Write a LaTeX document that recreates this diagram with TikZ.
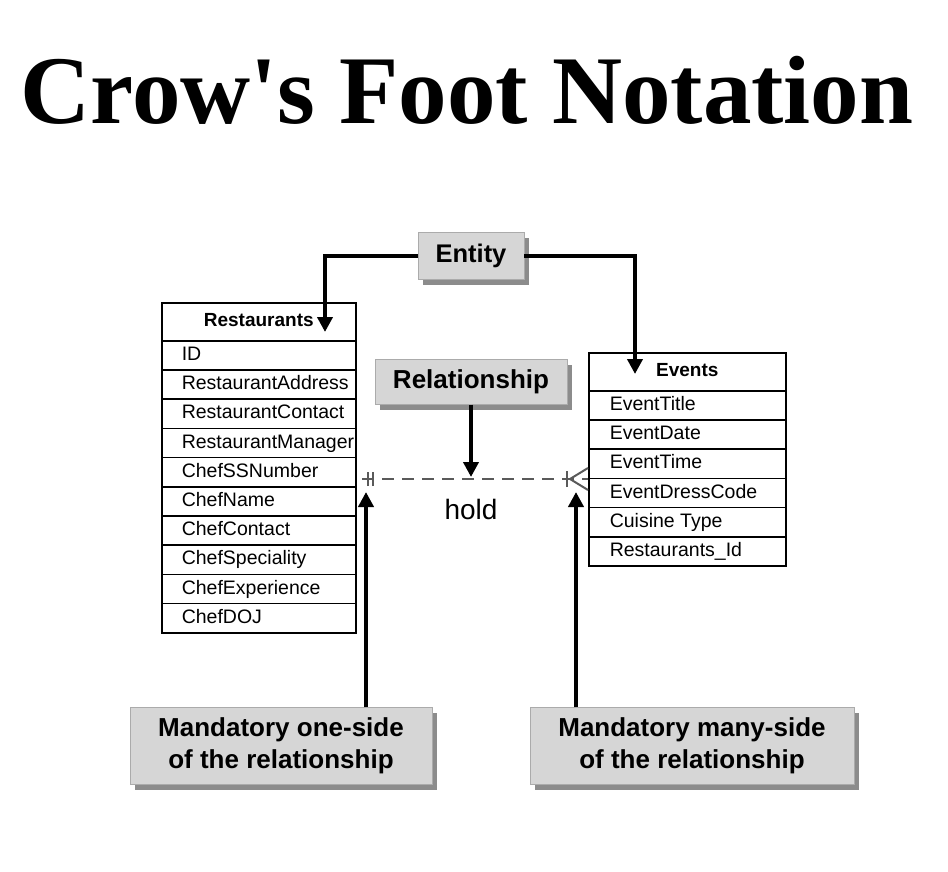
\documentclass[tikz,border=0pt]{standalone}
\usepackage{fontspec}
\setmainfont{Liberation Sans}
\newfontfamily\titlefont{Liberation Serif}
\usetikzlibrary{arrows.meta,shadows}
\definecolor{boxgray}{HTML}{D6D6D6}
\definecolor{shadegray}{HTML}{8C8C8C}
\definecolor{linegray}{HTML}{5A5A5A}
\tikzset{
  tabrow/.style={draw,line width=1.6pt,anchor=north west,minimum height=29.2pt,
    inner xsep=20pt,text width=154pt,text height=14pt,text depth=4pt,align=flush left,
    font=\fontsize{19.5}{21}\selectfont},
  tabhead/.style={tabrow,minimum height=38pt,align=flush center,font=\bfseries\fontsize{19}{21}\selectfont},
  callout/.style={fill=boxgray,draw=boxgray!80!black,line width=0.4pt,align=center,
    font=\bfseries\fontsize{26}{32}\selectfont,
    drop shadow={shadow xshift=5pt,shadow yshift=-5pt,fill=shadegray,opacity=1}},
  thick arrow/.style={line width=4pt,-{Triangle[width=15pt,length=15pt]}},
}

\begin{document}
\begin{tikzpicture}[x=1pt,y=-1pt]
 \useasboundingbox (0,0) rectangle (948,872);
 \node[anchor=base,font=\titlefont\bfseries\fontsize{97}{100}\selectfont] (title) at (467,124) {Crow's Foot Notation};
 % Restaurants table
 \node[tabhead] (rest) at (161,302) {Restaurants};
 \foreach \t [count=\i] in {ID,RestaurantAddress,RestaurantContact,RestaurantManager,
   ChefSSNumber,ChefName,ChefContact,ChefSpeciality,ChefExperience,ChefDOJ}
   {\node[tabrow] (rest-\i) at (161,{340+(\i-1)*29.2}) {\t};}
 % Events table
 \node[tabhead,text width=155pt,inner xsep=21pt] (evt) at (588,352) {Events};
 \foreach \t [count=\i] in {EventTitle,EventDate,EventTime,EventDressCode,Cuisine Type,Restaurants\_Id}
   {\node[tabrow,text width=155pt,inner xsep=21pt] (evt-\i) at (588,{390+(\i-1)*29.2}) {\t};}
 % callouts
 \node[callout,minimum width=106pt,minimum height=47pt,font=\bfseries\fontsize{25.5}{30}\selectfont] (entity) at (471,256) {Entity};
 \node[callout,minimum width=192pt,minimum height=45pt] (rel) at (471,382) {Relationship};
 \node[callout,minimum width=302pt,minimum height=77pt] (one) at (281,746) {Mandatory one-side\\of the relationship};
 \node[callout,minimum width=324pt,minimum height=77pt] (many) at (692,746) {Mandatory many-side\\of the relationship};
 \coordinate (restin) at (325,332);
 \coordinate (evtin) at (635,374);
 \coordinate (oneend) at (362,479);
 \coordinate (manyend) at (588,479);
 \coordinate (mid) at (471,477);
 \coordinate (oneup) at (366,492);
 \coordinate (manyup) at (576,492);
 % relationship line
 \draw[linegray,line width=2pt,dash pattern=on 12pt off 8pt] (oneend) -- (manyend);
 \draw[linegray,line width=2.4pt] ([xshift=6pt,yshift=-7pt]oneend) -- ([xshift=6pt,yshift=7pt]oneend)
   ([xshift=11pt,yshift=-7pt]oneend) -- ([xshift=11pt,yshift=7pt]oneend);
 \draw[linegray,line width=2.4pt] ([xshift=-21pt,yshift=-8pt]manyend) -- ([xshift=-21pt,yshift=8pt]manyend);
 \draw[linegray,line width=2pt] ([yshift=-11pt]manyend) -- ([xshift=-18pt]manyend) -- ([yshift=11pt]manyend);
 \node[font=\fontsize{28}{30}\selectfont] (hold) at (471,509) {hold};
 % arrows
 \draw[thick arrow] (entity.west) -| (restin);
 \draw[thick arrow] (entity.east) -| (evtin);
 \draw[thick arrow] (rel.south) -- (mid);
 \draw[thick arrow] (oneup |- one.north) -- (oneup);
 \draw[thick arrow] (manyup |- many.north) -- (manyup);
\end{tikzpicture}
\end{document}
